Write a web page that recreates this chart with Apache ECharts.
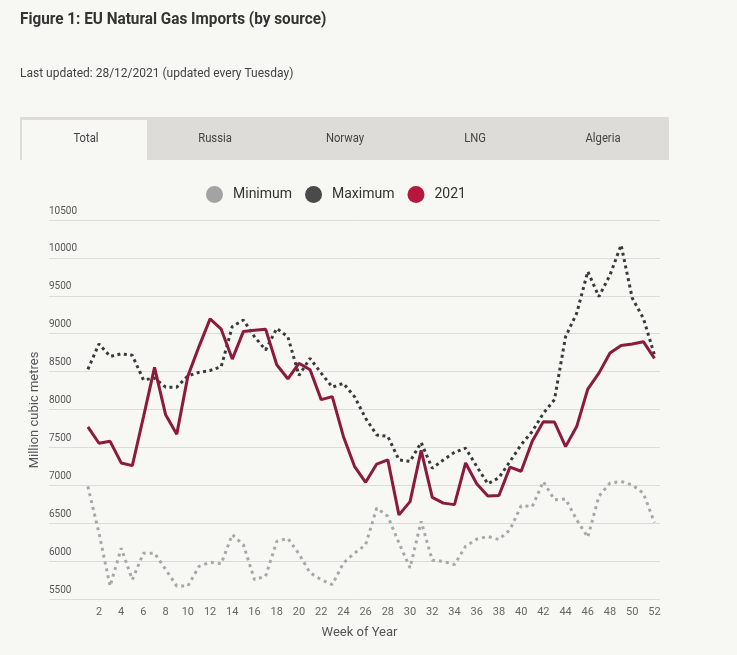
<!DOCTYPE html>
<html>
<head>
<meta charset="utf-8">
<script src="https://cdn.jsdelivr.net/npm/echarts@6/dist/echarts.min.js"></script>
<style>
html,body{margin:0;padding:0;background:#f7f7f4;}
#chart{width:737px;height:655px;}
</style>
</head>
<body>
<div id="chart"></div>
<script>
var weeks = [1,2,3,4,5,6,7,8,9,10,11,12,13,14,15,16,17,18,19,20,21,22,23,24,25,26,27,28,29,30,31,32,33,34,35,36,37,38,39,40,41,42,43,44,45,46,47,48,49,50,51,52];
var weekTicks = [2,4,6,8,10,12,14,16,18,20,22,24,26,28,30,32,34,36,38,40,42,44,46,48,50,52];
var minimum = [6985,6370,5670,6170,5755,6105,6105,5890,5670,5670,5930,5985,5965,6350,6215,5755,5800,6260,6300,6095,5845,5755,5690,5975,6105,6215,6700,6590,6240,5910,6525,6010,5995,5955,6195,6290,6325,6285,6415,6730,6720,7050,6810,6820,6545,6315,6855,7030,7050,7005,6895,6510];
var maximum = [8530,8865,8700,8735,8715,8390,8415,8295,8295,8445,8490,8515,8565,9095,9180,8960,8785,9070,8960,8450,8675,8480,8295,8345,8170,7885,7665,7645,7335,7315,7565,7225,7335,7435,7490,7250,7020,7100,7315,7535,7710,7950,8130,8960,9270,9820,9490,9775,10170,9470,9205,8720];
var y2021 = [7770,7555,7580,7295,7260,7900,8555,7930,7675,8440,8830,9195,9060,8665,9030,9045,9060,8590,8405,8610,8525,8130,8170,7645,7250,7040,7280,7335,6610,6785,7460,6840,6765,6745,7295,7020,6860,6865,7240,7185,7580,7840,7835,7510,7775,8270,8480,8745,8845,8865,8895,8675];
var yTicks = [5500,6000,6500,7000,7500,8000,8500,9000,9500,10000,10500];
var tabs = ['Total','Russia','Norway','LNG','Algeria'];
var titleText = 'Figure 1: EU Natural Gas Imports (by source)';
var subtitleText = 'Last updated: 28/12/2021 (updated every Tuesday)';
var yAxisTitle = 'Million cubic metres';

var FONT = 'Roboto, "Noto Sans", sans-serif';
function pairs(arr){ return weeks.map(function(w,i){ return [w, arr[i]]; }); }

var tabCenters = [86,215,345,475,603];
var graphics = [
  {type:'text', x:20, y:20, scaleX:0.9, style:{text:titleText, fill:'#333', font:'bold 17px '+FONT, textVerticalAlign:'middle'}},
  {type:'text', x:20, y:74, style:{text:subtitleText, fill:'#444', font:'12px '+FONT, textVerticalAlign:'middle'}},
  {type:'rect', shape:{x:20,y:117,width:649,height:43}, style:{fill:'#dddcd8'}},
  {type:'rect', shape:{x:22,y:120,width:125,height:40}, style:{fill:'#f7f7f4'}},
  {type:'text', x:35, y:410, rotation:Math.PI/2, style:{text:yAxisTitle, fill:'#555', font:'13px '+FONT, textAlign:'center', textVerticalAlign:'middle'}}
];
tabs.forEach(function(t,i){
  graphics.push({type:'text', x:tabCenters[i], y:139, scaleX:0.9, style:{text:t, fill:'#444', font:'12.5px '+FONT, textAlign:'center', textVerticalAlign:'middle'}});
});

var chart = echarts.init(document.getElementById('chart'), null, {renderer:'canvas'});
chart.setOption({
  backgroundColor:'#f7f7f4',
  animation:false,
  graphic: graphics,
  legend:{
    left:201, top:181, icon:'circle', itemWidth:17, itemHeight:17, itemGap:13,
    textStyle:{fontFamily:FONT, fontSize:14, color:'#333', padding:[0,0,0,5]},
    data:['Minimum','Maximum','2021']
  },
  grid:{left:49, right:77, top:220, bottom:56},
  xAxis:{
    type:'value', min:-2.5, max:52.5,
    name:'Week of Year', nameLocation:'middle', nameGap:27,
    nameTextStyle:{fontFamily:FONT, fontSize:13, color:'#555', padding:[0,0,0,10]},
    axisLine:{show:false}, axisTick:{show:false}, splitLine:{show:false},
    axisLabel:{customValues:weekTicks, fontFamily:FONT, fontSize:11, color:'#666', margin:8}
  },
  yAxis:{
    type:'value', min:5500, max:10500, interval:500,
    axisLine:{show:false}, axisTick:{show:false},
    splitLine:{lineStyle:{color:'#dcdcda', width:1}},
    axisLabel:{inside:true, margin:0, verticalAlign:'bottom', padding:[0,0,4,0], fontFamily:FONT, fontSize:10, color:'#555', formatter:function(v){ return String(v); }}
  },
  series:[
    {name:'Minimum', type:'line', data:pairs(minimum), symbol:'none', itemStyle:{color:'#a3a3a3'}, lineStyle:{color:'#a8a8a8', width:3, type:[3,4]}},
    {name:'Maximum', type:'line', data:pairs(maximum), symbol:'none', itemStyle:{color:'#4a4a4a'}, lineStyle:{color:'#3a3a3a', width:3, type:[3,3.5]}},
    {name:'2021', type:'line', data:pairs(y2021), symbol:'none', itemStyle:{color:'#b5173d'}, lineStyle:{color:'#8b1a3c', width:3}}
  ]
});
</script>
</body>
</html>
